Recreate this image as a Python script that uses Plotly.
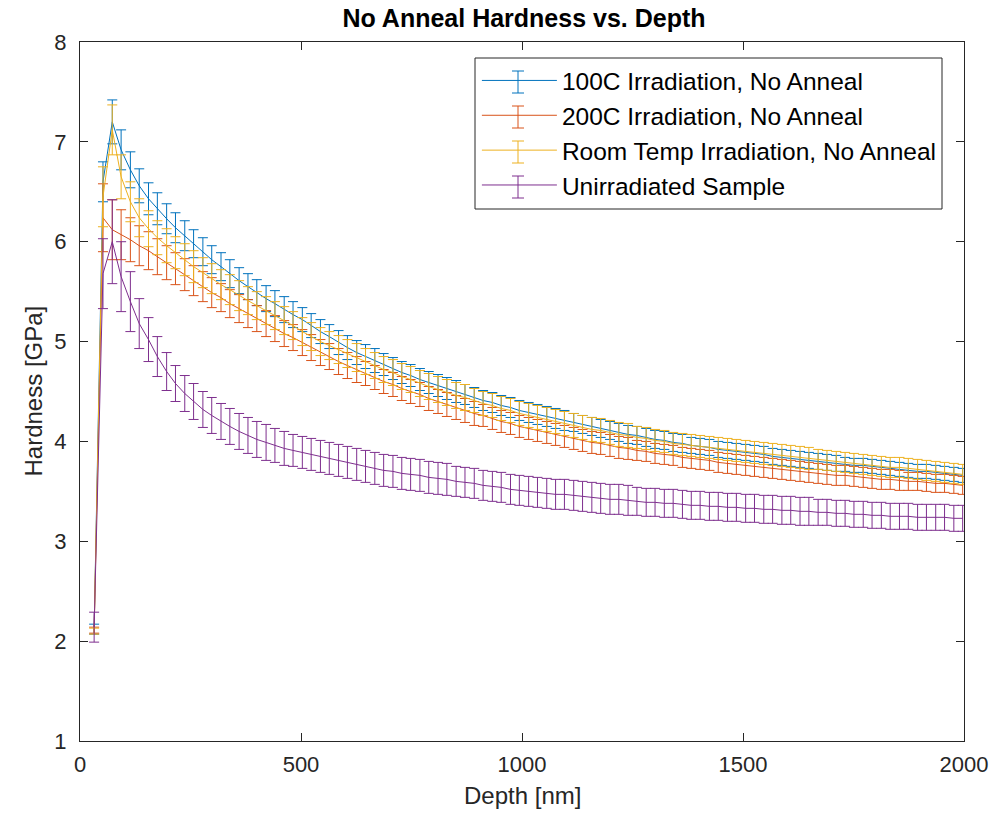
import plotly.graph_objects as go

depth_nm = [32,52,73,93,114,134,155,175,196,216,
            237,257,278,298,319,339,360,380,400,421,
            441,462,482,503,523,544,564,585,605,626,
            646,667,687,708,728,748,769,789,810,830,
            851,871,892,912,933,953,974,994,1015,1035,
            1056,1076,1096,1117,1137,1158,1178,1199,1219,1240,
            1260,1281,1301,1322,1342,1363,1383,1403,1424,1444,
            1465,1485,1506,1526,1547,1567,1588,1608,1629,1649,
            1670,1690,1711,1731,1751,1772,1792,1813,1833,1854,
            1874,1895,1915,1936,1956,1977,1997]

h_100c = [2.12,6.60,7.20,6.92,6.72,6.56,6.43,6.33,6.23,6.14,
          6.06,5.98,5.90,5.82,5.75,5.68,5.61,5.55,5.49,5.43,
          5.38,5.32,5.27,5.22,5.16,5.10,5.05,4.99,4.94,4.89,
          4.85,4.81,4.77,4.73,4.69,4.66,4.62,4.59,4.56,4.53,
          4.50,4.47,4.44,4.41,4.39,4.36,4.34,4.31,4.29,4.27,
          4.25,4.23,4.21,4.19,4.17,4.15,4.13,4.11,4.09,4.07,
          4.06,4.04,4.02,4.01,3.99,3.98,3.96,3.95,3.94,3.92,
          3.91,3.90,3.89,3.88,3.87,3.85,3.84,3.83,3.82,3.81,
          3.80,3.79,3.78,3.77,3.76,3.76,3.75,3.74,3.73,3.72,
          3.71,3.70,3.70,3.69,3.68,3.67,3.66]
e_100c = [0.05,0.20,0.22,0.20,0.18,0.17,0.16,0.16,0.15,0.15,
          0.15,0.14,0.14,0.14,0.14,0.14,0.13,0.13,0.13,0.13,
          0.13,0.13,0.13,0.12,0.12,0.12,0.12,0.12,0.12,0.12,
          0.12,0.12,0.11,0.11,0.11,0.11,0.11,0.11,0.11,0.11,
          0.11,0.10,0.10,0.10,0.10,0.10,0.10,0.10,0.10,0.10,
          0.10,0.10,0.10,0.09,0.09,0.09,0.09,0.09,0.09,0.09,
          0.09,0.09,0.09,0.09,0.09,0.09,0.08,0.08,0.08,0.08,
          0.08,0.08,0.08,0.08,0.08,0.08,0.08,0.08,0.08,0.08,
          0.08,0.08,0.08,0.07,0.07,0.07,0.07,0.07,0.07,0.07,
          0.07,0.07,0.07,0.07,0.07,0.07,0.07]

h_200c = [2.11,6.24,6.12,6.07,6.02,5.96,5.91,5.85,5.79,5.73,
          5.67,5.61,5.55,5.49,5.44,5.38,5.33,5.28,5.23,5.18,
          5.13,5.08,5.04,4.99,4.94,4.89,4.85,4.80,4.76,4.72,
          4.68,4.64,4.60,4.57,4.53,4.50,4.47,4.43,4.40,4.37,
          4.34,4.31,4.28,4.26,4.23,4.20,4.18,4.15,4.13,4.11,
          4.09,4.07,4.05,4.03,4.01,3.99,3.98,3.96,3.94,3.93,
          3.91,3.90,3.88,3.87,3.86,3.84,3.83,3.82,3.81,3.79,
          3.78,3.77,3.76,3.75,3.74,3.73,3.72,3.71,3.70,3.69,
          3.68,3.67,3.66,3.66,3.65,3.64,3.63,3.62,3.62,3.61,
          3.60,3.60,3.59,3.58,3.58,3.57,3.56]
e_200c = [0.03,0.34,0.30,0.25,0.22,0.20,0.19,0.18,0.17,0.16,
          0.16,0.15,0.15,0.15,0.14,0.14,0.14,0.14,0.13,0.13,
          0.13,0.13,0.13,0.13,0.13,0.13,0.13,0.13,0.13,0.13,
          0.12,0.12,0.12,0.12,0.12,0.12,0.12,0.12,0.12,0.12,
          0.12,0.12,0.12,0.11,0.11,0.11,0.11,0.11,0.11,0.11,
          0.11,0.11,0.11,0.11,0.11,0.11,0.11,0.11,0.11,0.11,
          0.10,0.10,0.10,0.10,0.10,0.10,0.10,0.10,0.10,0.10,
          0.10,0.10,0.10,0.10,0.10,0.10,0.10,0.10,0.10,0.10,
          0.10,0.10,0.10,0.10,0.10,0.10,0.10,0.10,0.10,0.10,
          0.09,0.09,0.09,0.09,0.09,0.09,0.09]

h_rt = [2.10,6.45,7.12,6.65,6.40,6.24,6.13,6.04,5.96,5.89,
        5.82,5.75,5.69,5.63,5.57,5.52,5.46,5.41,5.36,5.31,
        5.26,5.21,5.16,5.10,5.05,5.00,4.96,4.92,4.88,4.84,
        4.80,4.76,4.72,4.69,4.65,4.62,4.58,4.55,4.52,4.49,
        4.46,4.44,4.41,4.38,4.36,4.33,4.31,4.28,4.26,4.24,
        4.22,4.20,4.18,4.16,4.14,4.12,4.11,4.09,4.07,4.06,
        4.04,4.03,4.01,4.00,3.98,3.97,3.96,3.95,3.94,3.93,
        3.92,3.91,3.90,3.89,3.88,3.87,3.86,3.85,3.84,3.83,
        3.82,3.81,3.80,3.79,3.78,3.77,3.76,3.75,3.74,3.74,
        3.73,3.72,3.71,3.70,3.69,3.68,3.67]
e_rt = [0.03,0.30,0.25,0.22,0.20,0.19,0.18,0.17,0.17,0.16,
        0.16,0.16,0.15,0.15,0.15,0.15,0.15,0.14,0.14,0.14,
        0.14,0.14,0.14,0.14,0.14,0.14,0.14,0.14,0.14,0.14,
        0.13,0.13,0.13,0.13,0.13,0.13,0.13,0.13,0.13,0.13,
        0.13,0.13,0.12,0.12,0.12,0.12,0.12,0.12,0.12,0.12,
        0.12,0.12,0.12,0.12,0.12,0.12,0.12,0.12,0.12,0.12,
        0.11,0.11,0.11,0.11,0.11,0.11,0.11,0.11,0.11,0.11,
        0.11,0.11,0.11,0.11,0.11,0.11,0.11,0.11,0.11,0.11,
        0.10,0.10,0.10,0.10,0.10,0.10,0.10,0.10,0.10,0.10,
        0.10,0.10,0.10,0.10,0.10,0.10,0.10]

h_unirr = [2.14,5.68,6.00,5.65,5.40,5.18,5.02,4.85,4.70,4.58,
           4.48,4.40,4.32,4.26,4.20,4.15,4.10,4.06,4.02,3.99,
           3.96,3.93,3.91,3.89,3.87,3.85,3.83,3.81,3.79,3.77,
           3.75,3.73,3.71,3.70,3.68,3.67,3.66,3.64,3.63,3.62,
           3.60,3.59,3.58,3.56,3.55,3.54,3.52,3.51,3.50,3.49,
           3.48,3.47,3.47,3.46,3.45,3.44,3.43,3.42,3.42,3.41,
           3.40,3.39,3.39,3.38,3.38,3.37,3.36,3.36,3.35,3.35,
           3.34,3.34,3.33,3.33,3.32,3.32,3.31,3.31,3.30,3.30,
           3.29,3.29,3.28,3.28,3.27,3.27,3.26,3.26,3.25,3.25,
           3.25,3.24,3.24,3.24,3.24,3.23,3.23]
e_unirr = [0.15,0.35,0.42,0.35,0.30,0.25,0.22,0.20,0.19,0.18,
           0.18,0.18,0.18,0.18,0.18,0.18,0.18,0.18,0.18,0.18,
           0.17,0.17,0.16,0.16,0.16,0.16,0.16,0.16,0.16,0.16,
           0.16,0.16,0.16,0.16,0.16,0.16,0.16,0.16,0.16,0.16,
           0.15,0.15,0.15,0.15,0.15,0.15,0.15,0.15,0.15,0.15,
           0.15,0.15,0.15,0.15,0.15,0.15,0.15,0.15,0.15,0.15,
           0.14,0.14,0.14,0.14,0.14,0.14,0.14,0.14,0.14,0.14,
           0.14,0.14,0.14,0.14,0.14,0.14,0.14,0.14,0.14,0.14,
           0.13,0.13,0.13,0.13,0.13,0.13,0.13,0.13,0.13,0.13,
           0.13,0.13,0.13,0.13,0.13,0.13,0.13]

series_names = ["100C Irradiation, No Anneal", "200C Irradiation, No Anneal",
                "Room Temp Irradiation, No Anneal", "Unirradiated Sample"]
series_vals = [h_100c, h_200c, h_rt, h_unirr]
series_errs = [e_100c, e_200c, e_rt, e_unirr]
series_colors = ["#0072BD", "#D95319", "#EDB120", "#7E2F8E"]

x_ticks = [0, 500, 1000, 1500, 2000]
y_ticks = [1, 2, 3, 4, 5, 6, 7, 8]

FONT = "Liberation Sans, Arial, Helvetica, sans-serif"
TXT = "#262626"

W, H = 1002, 831
ML, MR, MT, MB = 80, 38, 42, 90
PW, PH = W - ML - MR, H - MT - MB


def px_x(p):
    return (p - ML) / PW


def px_y(p):
    return (H - MB - p) / PH


fig = go.Figure()
for name, vals, errs, col in zip(series_names, series_vals, series_errs, series_colors):
    fig.add_trace(go.Scatter(
        x=depth_nm, y=vals, name=name, mode="lines",
        line=dict(color=col, width=1),
        error_y=dict(type="data", array=errs, visible=True,
                     color=col, thickness=1, width=5),
    ))

# legend frame (drawn as a shape so that MATLAB-style error-bar glyphs can sit on the samples)
legend_top_px = 58
shapes = [dict(type="rect", xref="paper", yref="paper",
               x0=px_x(475), x1=px_x(942), y0=px_y(209), y1=px_y(legend_top_px),
               fillcolor="white", line=dict(color=TXT, width=1), layer="above")]
row_px = [legend_top_px + 24 + 35 * k for k in range(4)]
glyph_x_px = 518
for rp, col in zip(row_px, series_colors):
    gx = px_x(glyph_x_px)
    y0 = px_y(rp + 11)
    y1 = px_y(rp - 11)
    cw = 6 / PW
    for sh in (dict(x0=gx, x1=gx, y0=y0, y1=y1),
               dict(x0=gx - cw, x1=gx + cw, y0=y0, y1=y0),
               dict(x0=gx - cw, x1=gx + cw, y0=y1, y1=y1)):
        shapes.append(dict(type="line", xref="paper", yref="paper",
                           line=dict(color=col, width=1), layer="above", **sh))

axis_common = dict(showgrid=False, zeroline=False, showline=True, linecolor=TXT,
                   linewidth=1, mirror="ticks", ticks="inside", ticklen=8,
                   tickcolor=TXT, tickwidth=1,
                   tickfont=dict(family=FONT, size=22, color=TXT))

fig.update_layout(
    width=W, height=H,
    margin=dict(l=ML, r=MR, t=MT, b=MB),
    paper_bgcolor="white", plot_bgcolor="white",
    title=dict(text="<b>No Anneal Hardness vs. Depth</b>", x=0.523, xanchor="center",
               y=1 - 18 / H, yanchor="middle", yref="container",
               font=dict(family=FONT, size=25, color="#000000")),
    xaxis=dict(range=[0, 2000], tickvals=x_ticks, ticklabelstandoff=4, **axis_common),
    yaxis=dict(range=[1, 8], tickvals=y_ticks, ticklabelstandoff=8, **axis_common),
    showlegend=True,
    legend=dict(x=0.975, xanchor="right", y=px_y(legend_top_px), yanchor="top",
                bgcolor="rgba(0,0,0,0)", borderwidth=0,
                itemwidth=75,
                font=dict(family=FONT, size=24.5, color="#000000")),
    shapes=shapes,
    annotations=[
        dict(text="Depth [nm]", xref="paper", yref="paper", x=0.5, y=0,
             yshift=-54, xanchor="center", yanchor="middle", showarrow=False,
             font=dict(family=FONT, size=24, color=TXT)),
        dict(text="Hardness [GPa]", xref="paper", yref="paper", x=0, y=0.5,
             xshift=-47, xanchor="center", yanchor="middle", textangle=-90,
             showarrow=False, font=dict(family=FONT, size=24, color=TXT)),
    ],
)

fig.write_html("out.html")
